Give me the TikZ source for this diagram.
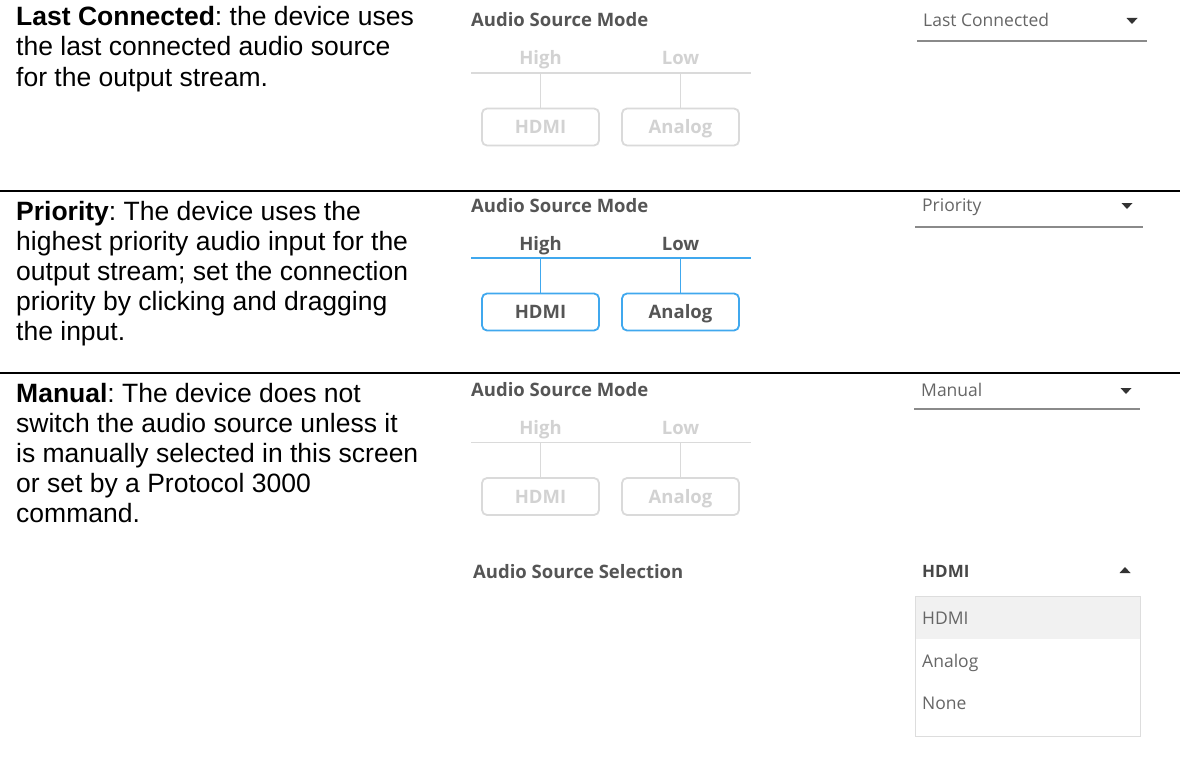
\documentclass[tikz,border=0pt]{standalone}
\usepackage{fontspec}
\setmainfont{Liberation Sans}
\newfontfamily\uifont{Open Sans}
\frenchspacing
\definecolor{uidark}{HTML}{555555}
\definecolor{uitext}{HTML}{666666}
\definecolor{offline}{HTML}{DADADA}
\definecolor{offtext}{HTML}{D2D2D2}
\definecolor{actblue}{HTML}{40A8EE}
\definecolor{ddgray}{HTML}{8A8A8A}
\definecolor{arrowc}{HTML}{333333}
\definecolor{listborder}{HTML}{DDDDDD}
\definecolor{listhl}{HTML}{F1F1F1}
\tikzset{
 desc/.style={anchor=base west, inner sep=0pt, font=\frenchspacing\fontsize{26.5}{30}\selectfont},
 hdr/.style={anchor=base west, inner sep=0pt, text=uidark, font=\uifont\bfseries\fontsize{18.5}{22}\selectfont},
 lvl/.style={anchor=base, inner sep=0pt, font=\uifont\bfseries\fontsize{18.5}{22}\selectfont},
 srcbox/.style={draw, rounded corners=5pt, line width=1.8pt, minimum width=117pt, minimum height=37pt, inner sep=0pt, text height=13.2pt, text depth=0pt, font=\uifont\bfseries\fontsize{18.5}{22}\selectfont},
 barline/.style={line width=1.8pt},
 ddtext/.style={anchor=base west, inner sep=0pt, text=uitext, font=\uifont\fontsize{17.5}{20}\selectfont},
 ddline/.style={draw=ddgray, line width=1.5pt},
 seprule/.style={line width=2pt},
 tri/.style={fill=arrowc},
}
% #1 suffix, #2 y offset, #3 line colour, #4 label colour
\newcommand\modepanel[4]{%
 \begin{scope}[shift={(0,#2)}]
  \node[hdr] (hd#1) at (471,27) {Audio Source Mode};
  \node[lvl,text=#4] (hi#1) at (540.5,65) {High};
  \node[lvl,text=#4] (lo#1) at (680.5,65) {Low};
  \coordinate (bl#1) at (471,73);
  \coordinate (br#1) at (751,73);
  \coordinate (bh#1) at (540.5,73);
  \coordinate (ba#1) at (680.5,73);
  \node[srcbox,draw=#3,text=#4] (hdmi#1) at (540.5,127) {HDMI};
  \node[srcbox,draw=#3,text=#4] (ana#1) at (680.5,127) {Analog};
  \draw[barline,#3] (bl#1) -- (br#1);
  \draw[barline,#3] (bh#1) -- (hdmi#1.north);
  \draw[barline,#3] (ba#1) -- (ana#1.north);
 \end{scope}}
\begin{document}
\begin{tikzpicture}[x=1pt,y=-1pt]
\useasboundingbox[fill=white] (0,0) rectangle (1180,776);
% separators
\coordinate (s1l) at (0,190.7); \coordinate (s1r) at (1180,190.7);
\coordinate (s2l) at (0,372.5); \coordinate (s2r) at (1180,372.5);
\draw[seprule] (s1l) -- (s1r);
\draw[seprule] (s2l) -- (s2r);
% descriptions
\node[desc] (d11) at (16,26) {{\bfseries Last Connected}: the device uses};
\node[desc] (d12) at (16,56) {the last connected audio source};
\node[desc] (d13) at (16,86) {for the output stream.};
\node[desc] (d21) at (16,220) {{\bfseries Priority}: The device uses the};
\node[desc] (d22) at (16,250) {highest priority audio input for the};
\node[desc] (d23) at (16,280) {output stream; set the connection};
\node[desc] (d24) at (16,310) {priority by clicking and dragging};
\node[desc] (d25) at (16,340) {the input.};
\node[desc] (d31) at (16,402) {{\bfseries Manual}: The device does not};
\node[desc] (d32) at (16,432) {switch the audio source unless it};
\node[desc] (d33) at (16,462) {is manually selected in this screen};
\node[desc] (d34) at (16,492) {or set by a Protocol 3000};
\node[desc] (d35) at (16,522) {command.};
% mode panels
\modepanel{1}{0}{offline}{offtext}
\modepanel{2}{185}{actblue}{uidark}
\modepanel{3}{369.5}{offline}{offtext}
% dropdowns
\node[ddtext] (dd1) at (923,26.5) {Last Connected};
\draw[ddline] (917,41) -- (1147,41);
\fill[tri] (1126.5,18) -- (1137.5,18) -- (1132,24) -- cycle;
\node[ddtext] (dd2) at (922,211.5) {Priority};
\draw[ddline] (915,227) -- (1143,227);
\fill[tri] (1121.5,203) -- (1132.5,203) -- (1127,209) -- cycle;
\node[ddtext] (dd3) at (921,396) {Manual};
\draw[ddline] (914,409) -- (1140,409);
\fill[tri] (1120.5,388) -- (1131.5,388) -- (1126,394) -- cycle;
% audio source selection
\node[hdr] (sel) at (473,578) {Audio Source Selection};
\node[anchor=base west, inner sep=0pt, text=arrowc!90, font=\uifont\bfseries\fontsize{17}{20}\selectfont] (selv) at (922,577.7) {HDMI};
\fill[tri] (1119.5,573) -- (1130.5,573) -- (1125,567) -- cycle;
\draw[listborder, line width=1pt] (915,596) rectangle (1140,736);
\fill[listhl] (915.5,596.5) rectangle (1139.5,639);
\node[ddtext] (it1) at (922,624.3) {HDMI};
\node[ddtext] (it2) at (922,667.7) {Analog};
\node[ddtext] (it3) at (922,709.3) {None};
\end{tikzpicture}
\end{document}
